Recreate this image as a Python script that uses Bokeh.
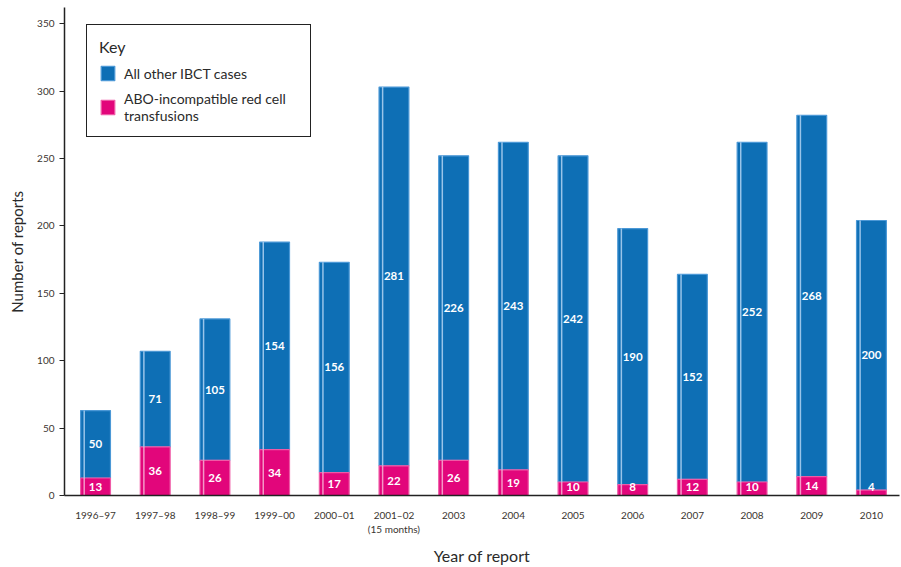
from bokeh.plotting import figure
from bokeh.models import (ColumnDataSource, Range1d, FixedTicker, Legend, LegendItem, LabelSet)
from bokeh.core.properties import value
from bokeh.embed import file_html
from bokeh.resources import INLINE

years = ["1996–97", "1997–98", "1998–99", "1999–00", "2000–01", "2001–02\n(15 months)",
         "2003", "2004", "2005", "2006", "2007", "2008", "2009", "2010"]
abo = [13, 36, 26, 34, 17, 22, 26, 19, 10, 8, 12, 10, 14, 4]
other = [50, 71, 105, 154, 156, 281, 226, 243, 242, 190, 152, 252, 268, 200]
y_ticks = [0, 50, 100, 150, 200, 250, 300, 350]

FONT = "Lato"
BLUE = "#0e6fb5"
PINK = "#e2067b"

idx = list(range(1, len(years) + 1))
tops = [a + o for a, o in zip(abo, other)]
src = ColumnDataSource(dict(
    x=idx,
    abo=abo,
    other=other,
    top=tops,
    stripe_x=[i - 0.19 for i in idx],
    abo_lab=[str(v) for v in abo],
    other_lab=[str(v) for v in other],
    abo_y=[max(v / 2.0, 6) for v in abo],
    other_y=[a + o / 2.0 for a, o in zip(abo, other)],
    zero=[0] * len(idx),
))

p = figure(width=901, height=567, output_backend="svg", toolbar_location=None,
           x_range=Range1d(0.48, 14.47), y_range=Range1d(0, 362),
           min_border_left=64, min_border_right=2, min_border_top=7, min_border_bottom=72)
p.outline_line_color = None
p.xgrid.visible = False
p.ygrid.visible = False
p.background_fill_color = "white"
p.border_fill_color = "white"

blue_r = p.vbar(x="x", bottom="abo", top="top", width=0.5, source=src,
                fill_color=BLUE, line_color="#4b98d6", line_width=1.2)
pink_r = p.vbar(x="x", bottom="zero", top="abo", width=0.5, source=src,
                fill_color=PINK, line_color="#ef5aa6", line_width=1.2)
# highlight stripes
p.vbar(x="stripe_x", bottom="abo", top="top", width=0.025, source=src,
       fill_color="#a9cdee", line_color=None, fill_alpha=0.9)
p.vbar(x="stripe_x", bottom="zero", top="abo", width=0.025, source=src,
       fill_color="#f6a9cf", line_color=None, fill_alpha=0.9)

p.add_layout(LabelSet(x="x", y="other_y", text="other_lab", source=src,
                      text_align="center", text_baseline="middle",
                      text_color="white", text_font=value(FONT), text_font_style="bold",
                      text_font_size="11.5px"))
p.add_layout(LabelSet(x="x", y="abo_y", text="abo_lab", source=src,
                      text_align="center", text_baseline="middle",
                      text_color="white", text_font=value(FONT), text_font_style="bold",
                      text_font_size="11.5px"))

# axes
p.yaxis.ticker = FixedTicker(ticks=y_ticks)
p.yaxis.minor_tick_line_color = None
p.yaxis.major_tick_in = 0
p.yaxis.major_tick_out = 5
p.yaxis.axis_line_width = 1.5
p.yaxis.axis_line_color = "#222222"
p.yaxis.major_tick_line_color = "#222222"
p.yaxis.major_label_text_font = FONT
p.yaxis.major_label_text_font_size = "10px"
p.yaxis.major_label_text_color = "#3a3530"
p.yaxis.axis_label = "Number of reports"
p.yaxis.axis_label_text_font = FONT
p.yaxis.axis_label_text_font_style = "normal"
p.yaxis.axis_label_text_font_size = "15px"
p.yaxis.axis_label_text_color = "#2a2a2a"
p.yaxis.axis_label_standoff = 8

p.xaxis.ticker = FixedTicker(ticks=idx)
p.xaxis.major_label_overrides = {i: y for i, y in zip(idx, years)}
p.xaxis.minor_tick_line_color = None
p.xaxis.major_tick_line_color = None
p.xaxis.major_tick_in = 0
p.xaxis.major_tick_out = 0
p.xaxis.major_label_standoff = 13
p.xaxis.axis_line_width = 1.5
p.xaxis.axis_line_color = "#222222"
p.xaxis.major_label_text_font = FONT
p.xaxis.major_label_text_font_size = "10px"
p.xaxis.major_label_text_color = "#3a3530"
p.xaxis.axis_label = "Year of report"
p.xaxis.axis_label_text_font = FONT
p.xaxis.axis_label_text_font_style = "normal"
p.xaxis.axis_label_text_font_size = "16px"
p.xaxis.axis_label_text_color = "#2a2a2a"
p.xaxis.axis_label_standoff = 8

legend = Legend(items=[
    LegendItem(label="All other IBCT cases", renderers=[blue_r]),
    LegendItem(label="ABO-incompatible red cell\ntransfusions", renderers=[pink_r]),
], location=(22, 358), title="Key")
legend.title_text_font = FONT
legend.title_text_font_size = "16px"
legend.title_text_font_style = "normal"
legend.title_text_color = "#2a2a2a"
legend.title_standoff = 8
legend.label_text_font = FONT
legend.label_text_font_size = "14px"
legend.label_text_color = "#2a2a2a"
legend.label_standoff = 8
legend.border_line_color = "#222222"
legend.border_line_alpha = 1.0
legend.border_line_width = 1.5
legend.background_fill_alpha = 1.0
legend.padding = 12
legend.spacing = 8
legend.glyph_width = 17
legend.glyph_height = 18
legend.label_width = 174
legend.margin = 0
p.add_layout(legend, "center")

open("out.html", "w").write(file_html(p, INLINE))
